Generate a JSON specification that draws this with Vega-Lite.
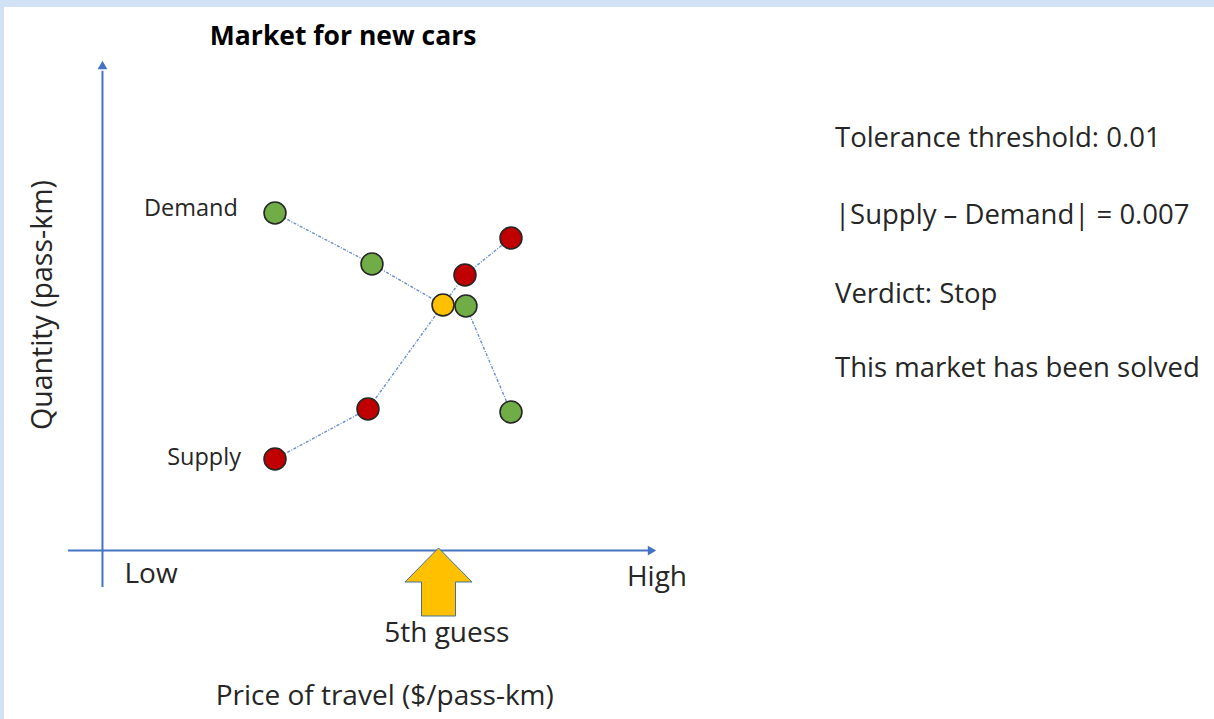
{
  "$schema": "https://vega.github.io/schema/vega-lite/v6.json",
  "width": 1214,
  "height": 719,
  "autosize": {"type": "fit", "contains": "padding"},
  "padding": {"left": 4, "top": 7, "right": 0, "bottom": 0},
  "background": "#d0e2f3",
  "config": {"view": {"fill": "white", "stroke": null}, "font": "Open Sans"},
  "datasets": {
    "axes": [
      {"axis": "price", "from_p": -6.22, "to_p": 98.6, "from_q": 0, "to_q": 0},
      {"axis": "quantity", "from_p": 0, "to_p": 0, "from_q": -7.44, "to_q": 97.8}
    ],
    "heads": [
      {"axis": "price", "price": 99.1, "quantity": 0},
      {"axis": "quantity", "price": 0, "quantity": 98.98}
    ],
    "curves": [
      {"curve": "Demand", "step": 1, "price": 31.11, "quantity": 68.81},
      {"curve": "Demand", "step": 2, "price": 48.6, "quantity": 58.41},
      {"curve": "Demand", "step": 3, "price": 61.41, "quantity": 50.06},
      {"curve": "Demand", "step": 4, "price": 65.55, "quantity": 49.85},
      {"curve": "Demand", "step": 5, "price": 73.67, "quantity": 28.24},
      {"curve": "Supply", "step": 1, "price": 31.11, "quantity": 18.65},
      {"curve": "Supply", "step": 2, "price": 47.88, "quantity": 28.85},
      {"curve": "Supply", "step": 3, "price": 61.41, "quantity": 50.06},
      {"curve": "Supply", "step": 4, "price": 65.37, "quantity": 56.17},
      {"curve": "Supply", "step": 5, "price": 73.67, "quantity": 63.71}
    ],
    "points": [
      {"type": "Demand", "price": 31.11, "quantity": 68.81},
      {"type": "Demand", "price": 48.6, "quantity": 58.41},
      {"type": "Demand", "price": 65.55, "quantity": 49.85},
      {"type": "Demand", "price": 73.67, "quantity": 28.24},
      {"type": "Supply", "price": 31.11, "quantity": 18.65},
      {"type": "Supply", "price": 47.88, "quantity": 28.85},
      {"type": "Supply", "price": 65.37, "quantity": 56.17},
      {"type": "Supply", "price": 73.67, "quantity": 63.71},
      {"type": "Guess", "price": 61.41, "quantity": 50.06}
    ],
    "guess": [
      {"price": 60.6, "quantity": -6.42}
    ],
    "title": [
      {"price": 43.4, "quantity": 104.7, "text": "Market for new cars"}
    ],
    "curveLabels": [
      {"price": 24.4, "quantity": 69.6, "text": "Demand"},
      {"price": 24.97, "quantity": 18.86, "text": "Supply"}
    ],
    "axisLabels": [
      {"price": 8.75, "quantity": -5.0, "text": "Low"},
      {"price": 100.0, "quantity": -5.6, "text": "High"},
      {"price": 62.1, "quantity": -17.0, "text": "5th guess"},
      {"price": 50.9, "quantity": -29.9, "text": "Price of travel ($/pass-km)"}
    ],
    "yTitle": [
      {"price": -10.73, "quantity": 50.05, "text": "Quantity (pass-km)"}
    ],
    "notes": [
      {"price": 132.1, "quantity": 83.9, "text": "Tolerance threshold: 0.01"},
      {"price": 132.1, "quantity": 68.2, "text": "|Supply – Demand| = 0.007"},
      {"price": 132.1, "quantity": 52.1, "text": "Verdict: Stop"},
      {"price": 132.1, "quantity": 37.0, "text": "This market has been solved"}
    ]
  },
  "layer": [
    {
      "data": {"name": "axes"},
      "mark": {"type": "rule", "color": "#4472C4", "strokeWidth": 2},
      "encoding": {
        "x": {"field": "from_p", "type": "quantitative", "scale": {"domain": [-17.76, 200.45], "nice": false, "zero": false}, "axis": null},
        "x2": {"field": "to_p"},
        "y": {"field": "from_q", "type": "quantitative", "scale": {"domain": [-34.35, 110.8], "nice": false, "zero": false}, "axis": null},
        "y2": {"field": "to_q"}
      }
    },
    {
      "data": {"name": "heads"},
      "mark": {"type": "point", "filled": true, "opacity": 1, "color": "#4472C4", "size": 95},
      "encoding": {
        "x": {"field": "price", "type": "quantitative"},
        "y": {"field": "quantity", "type": "quantitative"},
        "shape": {"field": "axis", "type": "nominal", "scale": {"domain": ["price", "quantity"], "range": ["triangle-right", "triangle-up"]}, "legend": null}
      }
    },
    {
      "data": {"name": "curves"},
      "mark": {"type": "line", "color": "#4472C4", "strokeWidth": 1.4, "strokeDash": [3, 1.5, 1, 1.5], "opacity": 0.8},
      "encoding": {
        "x": {"field": "price", "type": "quantitative"},
        "y": {"field": "quantity", "type": "quantitative"},
        "detail": {"field": "curve", "type": "nominal"},
        "order": {"field": "step", "type": "quantitative"}
      }
    },
    {
      "data": {"name": "points"},
      "mark": {"type": "circle", "size": 480, "opacity": 1, "stroke": "#262626", "strokeWidth": 1.6},
      "encoding": {
        "x": {"field": "price", "type": "quantitative"},
        "y": {"field": "quantity", "type": "quantitative"},
        "fill": {"field": "type", "type": "nominal", "scale": {"domain": ["Demand", "Supply", "Guess"], "range": ["#70AD47", "#C00000", "#FFC000"]}, "legend": null}
      }
    },
    {
      "data": {"name": "guess"},
      "mark": {"type": "point", "shape": "M0,-1L0.985,0L0.5,0L0.5,1L-0.5,1L-0.5,0L-0.985,0Z", "size": 4624, "filled": true, "fill": "#FFC000", "stroke": "#41719C", "strokeWidth": 1, "opacity": 1},
      "encoding": {
        "x": {"field": "price", "type": "quantitative"},
        "y": {"field": "quantity", "type": "quantitative"}
      }
    },
    {
      "data": {"name": "title"},
      "mark": {"type": "text", "fontSize": 26.5, "fontWeight": "bold", "color": "#000000", "align": "center", "baseline": "middle"},
      "encoding": {
        "x": {"field": "price", "type": "quantitative"},
        "y": {"field": "quantity", "type": "quantitative"},
        "text": {"field": "text"}
      }
    },
    {
      "data": {"name": "curveLabels"},
      "mark": {"type": "text", "fontSize": 23.5, "color": "#262626", "align": "right", "baseline": "middle"},
      "encoding": {
        "x": {"field": "price", "type": "quantitative"},
        "y": {"field": "quantity", "type": "quantitative"},
        "text": {"field": "text"}
      }
    },
    {
      "data": {"name": "axisLabels"},
      "mark": {"type": "text", "fontSize": 28, "color": "#262626", "align": "center", "baseline": "middle"},
      "encoding": {
        "x": {"field": "price", "type": "quantitative"},
        "y": {"field": "quantity", "type": "quantitative"},
        "text": {"field": "text"}
      }
    },
    {
      "data": {"name": "yTitle"},
      "mark": {"type": "text", "fontSize": 28.5, "color": "#262626", "align": "center", "baseline": "middle", "angle": 270},
      "encoding": {
        "x": {"field": "price", "type": "quantitative"},
        "y": {"field": "quantity", "type": "quantitative"},
        "text": {"field": "text"}
      }
    },
    {
      "data": {"name": "notes"},
      "mark": {"type": "text", "fontSize": 27.5, "color": "#262626", "align": "left", "baseline": "middle"},
      "encoding": {
        "x": {"field": "price", "type": "quantitative"},
        "y": {"field": "quantity", "type": "quantitative"},
        "text": {"field": "text"}
      }
    }
  ]
}
